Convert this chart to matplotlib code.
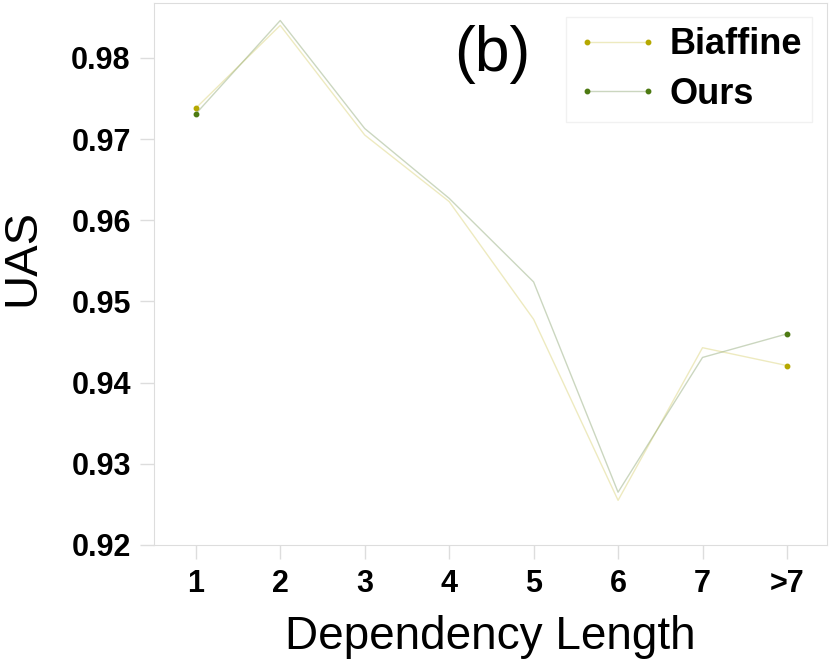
import numpy as np
import matplotlib.pyplot as plt

# valores
lengths = ['1', '2', '3', '4', '5', '6', '7', '>7']
biaffine = [0.9738, 0.9840, 0.9705, 0.9623, 0.9478, 0.9255, 0.9443, 0.9421]
ours = [0.9731, 0.9846, 0.9713, 0.9627, 0.9524, 0.9265, 0.9431, 0.9460]
yticks = [0.92, 0.93, 0.94, 0.95, 0.96, 0.97, 0.98]

plt.rcParams['font.family'] = ['Liberation Sans', 'DejaVu Sans']

fig = plt.figure(figsize=(8.3, 6.63), dpi=100)
ax = fig.add_axes([0.186, 0.178, 0.81, 0.818])

x = np.arange(len(lengths))
ax.plot(x, biaffine, color=(0.85, 0.82, 0.45, 0.45), linewidth=1.0,
        marker='o', markersize=3.2, markevery=[0, len(x) - 1],
        markerfacecolor='#b5a800', markeredgecolor='#b5a800', label='Biaffine')
ax.plot(x, ours, color=(0.55, 0.65, 0.45, 0.45), linewidth=1.0,
        marker='o', markersize=3.2, markevery=[0, len(x) - 1],
        markerfacecolor='#4d7a12', markeredgecolor='#4d7a12', label='Ours')

ax.set_xlim(-0.49, 7.47)
ax.set_ylim(0.92, 0.9868)
ax.set_xticks(x)
ax.set_xticklabels(lengths)
ax.set_yticks(yticks)
ax.set_yticklabels([f'{v:.2f}' for v in yticks])

for s in ax.spines.values():
    s.set_color('#dddddd')
ax.tick_params(axis='both', colors='#dddddd', length=10, width=1,
               labelcolor='black', labelsize=22, pad=7)
for lab in ax.get_xticklabels() + ax.get_yticklabels():
    lab.set_fontweight('bold')

ax.set_xlabel('Dependency Length', fontsize=33, labelpad=12)
ax.set_ylabel('UAS', fontsize=34)
ax.yaxis.set_label_coords(-0.163, 0.53)

ax.text(0.503, 0.904, '(b)', transform=ax.transAxes, fontsize=45,
        ha='center', va='center')

leg = ax.legend(loc='upper right', numpoints=2, handlelength=2.3,
                prop={'weight': 'bold', 'size': 26}, frameon=True,
                fancybox=False, borderaxespad=0.4, handletextpad=0.3,
                labelspacing=0.4, borderpad=0.28)
leg.get_frame().set_edgecolor('#eeeeee')
leg.get_frame().set_linewidth(1)

fig.savefig('out.png', dpi=100)
